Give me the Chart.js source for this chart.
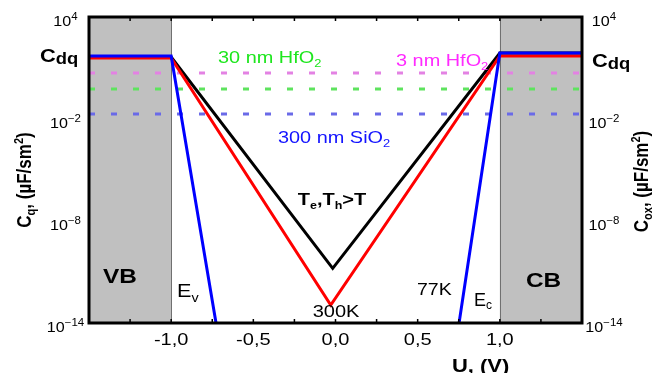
<!DOCTYPE html>
<html>
<head>
<meta charset="utf-8">
<script src="https://cdn.jsdelivr.net/npm/chart.js@4.4.0/dist/chart.umd.min.js"></script>
<style>
html,body{margin:0;padding:0;background:#fff;}
#wrap{width:658px;height:373px;}
</style>
</head>
<body>
<div id="wrap"><canvas id="c" width="658" height="373"></canvas></div>
<script>
// ---- data ----
const xTickValues = [-1.5,-1.25,-1.0,-0.75,-0.5,-0.25,0,0.25,0.5,0.75,1.0,1.25,1.5];
const xLabelValues = [-1.0,-0.5,0.0,0.5,1.0];
const xLabelTexts = ['-1,0','-0,5','0,0','0,5','1,0'];
const yLabelValues = [1e4,1e-2,1e-8,1e-14];
const yLabelExps = ['4','\u22122','\u22128','\u221214'];

const bandVB = [-1.5,-1.0];
const bandCB = [1.0,1.5];

// 300K curve (red)
const u300K = [-1.5,-1.0,-0.029,1.0,1.5];
const c300K = [39,39,1.15e-13,51,51];
// hot carriers Te,Th>T (black)
const uHot = [-1.5,-1.0,-0.017,1.0,1.5];
const cHot = [44,44,1.65e-11,76,76];
// 77K curve (blue), valence side and conduction side
const u77Kv = [-1.5,-1.0,-0.727];
const c77Kv = [51,51,1e-14];
const u77Kc = [0.752,1.0,1.5];
const c77Kc = [1e-14,76,76];
// oxide capacitances (dashed)
const uOx = [-1.5,1.5];
const cox3nmHfO2 = [5.1,5.1];
const cox30nmHfO2 = [0.58,0.58];
const cox300nmSiO2 = [0.0197,0.0197];

const pts = (xs,ys) => xs.map((x,i)=>({x:x,y:ys[i]}));

const FAM = '"Liberation Sans", Arial, Helvetica, sans-serif';
const F = (s,b) => (b?'bold ':'') + s + 'px ' + FAM;
const SX = 1.22;

function drawRich(ctx, segs, x, y, o){
  o = o || {};
  const align = o.align || 'left';
  ctx.save();
  ctx.translate(x,y);
  ctx.scale(o.sx || SX, 1);
  if (o.rot) ctx.rotate(-Math.PI/2);
  ctx.fillStyle = o.color || '#000';
  ctx.textBaseline = 'alphabetic';
  ctx.textAlign = 'left';
  let w = 0;
  const ws = segs.map(s => { ctx.font = s.f; const m = ctx.measureText(s.t).width; w += m; return m; });
  let cx = align === 'center' ? -w/2 : (align === 'right' ? -w : 0);
  segs.forEach((s,i) => { ctx.font = s.f; ctx.fillText(s.t, cx, s.dy || 0); cx += ws[i]; });
  ctx.restore();
}

const deco = {
  id: 'deco',
  beforeDatasetsDraw(chart){
    const {ctx, chartArea:a, scales:{x}} = chart;
    ctx.save();
    ctx.fillStyle = '#c0c0c0';
    [bandVB, bandCB].forEach(b => {
      const x0 = x.getPixelForValue(b[0]), x1 = x.getPixelForValue(b[1]);
      ctx.fillRect(x0, a.top, x1-x0, a.bottom-a.top);
    });
    ctx.strokeStyle = '#707070';
    ctx.lineWidth = 1;
    [bandVB[1], bandCB[0]].forEach(v => {
      const px = Math.round(x.getPixelForValue(v)) + 0.5;
      ctx.beginPath(); ctx.moveTo(px, a.top); ctx.lineTo(px, a.bottom); ctx.stroke();
    });
    ctx.restore();
  },
  afterDatasetsDraw(chart){
    const {ctx, chartArea:a, scales:{x, y, y2}} = chart;
    ctx.save();
    // ticks (inside, top & bottom)
    ctx.strokeStyle = '#000';
    ctx.lineWidth = 1.5;
    xTickValues.forEach(v => {
      const px = x.getPixelForValue(v);
      ctx.beginPath();
      ctx.moveTo(px, a.bottom); ctx.lineTo(px, a.bottom-4);
      ctx.moveTo(px, a.top); ctx.lineTo(px, a.top+4);
      ctx.stroke();
    });
    // frame
    ctx.lineWidth = 3;
    ctx.strokeRect(a.left, a.top, a.right-a.left, a.bottom-a.top);
    ctx.restore();

    // x tick labels
    xLabelValues.forEach((v,i) => {
      drawRich(ctx, [{t:xLabelTexts[i], f:F(16)}], x.getPixelForValue(v), 345, {align:'center', sx:1.25});
    });
    // y tick labels (left & right)
    yLabelValues.forEach((v,i) => {
      const py = y.getPixelForValue(v) + 9;
      const segs = [{t:'10', f:F(14)}, {t:yLabelExps[i], f:F(10), dy:-6}];
      drawRich(ctx, segs, 65.5, py, {align:'center', sx:1.15});
      const py2 = y2.getPixelForValue(v) + 9;
      drawRich(ctx, segs, 604, py2, {align:'center', sx:1.15});
    });
    // axis titles
    drawRich(ctx, [{t:'U, (V)', f:F(18,true)}], 452, 372, {sx:1.22});
    drawRich(ctx, [
      {t:'C', f:F(17,true)}, {t:'q', f:F(11,true), dy:3},
      {t:', (\u00b5F/sm', f:F(17,true)}, {t:'2', f:F(11,true), dy:-7}, {t:')', f:F(17,true)}
    ], 31, 180, {align:'center', rot:true, sx:1.2});
    drawRich(ctx, [
      {t:'C', f:F(17,true)}, {t:'ox', f:F(11,true), dy:3},
      {t:', (\u00b5F/sm', f:F(17,true)}, {t:'2', f:F(11,true), dy:-7}, {t:')', f:F(17,true)}
    ], 648, 181.5, {align:'center', rot:true, sx:1.2});
    // Cdq labels
    const cdq = [{t:'C', f:F(19,true)}, {t:'dq', f:F(16,true), dy:2}];
    drawRich(ctx, cdq, 40, 61.7, {sx:1.15});
    drawRich(ctx, cdq, 592, 66.7, {sx:1.15});
    // oxide labels
    drawRich(ctx, [{t:'30 nm HfO', f:F(17)}, {t:'2', f:F(11), dy:4}], 218, 63, {color:'#1ee61e', sx:1.17});
    drawRich(ctx, [{t:'3 nm HfO', f:F(17)}, {t:'2', f:F(11), dy:4}], 396, 66, {color:'#ff2bff', sx:1.17});
    drawRich(ctx, [{t:'300 nm SiO', f:F(17)}, {t:'2', f:F(11), dy:4}], 278, 143, {color:'#1414ff', sx:1.17});
    // curve labels
    drawRich(ctx, [{t:'300K', f:F(16)}], 336, 317, {align:'center', sx:1.25});
    drawRich(ctx, [{t:'77K', f:F(16)}], 417, 295, {sx:1.22});
    drawRich(ctx, [{t:'E', f:F(18)}, {t:'v', f:F(12), dy:5}], 177, 297, {sx:1.2});
    drawRich(ctx, [{t:'E', f:F(18)}, {t:'c', f:F(12), dy:3}], 474, 306, {sx:1.0});
    drawRich(ctx, [
      {t:'T', f:F(16,true)}, {t:'e', f:F(10,true), dy:4}, {t:',T', f:F(16,true)},
      {t:'h', f:F(10,true), dy:4}, {t:'>T', f:F(16,true)}
    ], 332, 205, {align:'center', sx:1.25});
    drawRich(ctx, [{t:'VB', f:F(21,true)}], 120, 283, {align:'center', sx:1.16});
    drawRich(ctx, [{t:'CB', f:F(21,true)}], 543.5, 287, {align:'center', sx:1.16});
  }
};

const lineDs = (data, color, order, extra) => Object.assign({
  data: data, borderColor: color, borderWidth: 3, pointRadius: 0, tension: 0,
  fill: false, order: order, borderJoinStyle: 'miter', yAxisID: 'y'
}, extra || {});

new Chart(document.getElementById('c'), {
  type: 'line',
  data: {
    datasets: [
      lineDs(pts(u77Kv, c77Kv), '#0000ff', 1),
      lineDs(pts(u77Kc, c77Kc), '#0000ff', 1),
      lineDs(pts(u300K, c300K), '#ff0000', 2),
      lineDs(pts(uHot, cHot), '#000000', 3),
      lineDs(pts(uOx, cox3nmHfO2), '#e382e3', 4, {borderDash:[6,16]}),
      lineDs(pts(uOx, cox30nmHfO2), '#5ee35e', 5, {borderDash:[6,16]}),
      lineDs(pts(uOx, cox300nmSiO2), '#6a6ae8', 6, {borderDash:[6,16]})
    ]
  },
  options: {
    responsive: false,
    animation: false,
    events: [],
    layout: {padding: {left: 0, right: 0, top: 17, bottom: 0}},
    plugins: {legend: {display: false}, tooltip: {enabled: false}, title: {display: false}},
    scales: {
      x: {
        type: 'linear', min: -1.5, max: 1.5,
        grid: {display: false}, border: {display: false},
        ticks: {display: false},
        afterFit: s => { s.height = 50; }
      },
      y: {
        type: 'logarithmic', position: 'left', min: 1e-14, max: 1e4,
        grid: {display: false}, border: {display: false},
        ticks: {display: false},
        afterFit: s => { s.width = 89; }
      },
      y2: {
        type: 'logarithmic', position: 'right', min: 1e-14, max: 1e4,
        grid: {display: false}, border: {display: false},
        ticks: {display: false},
        afterFit: s => { s.width = 76; }
      }
    }
  },
  plugins: [deco]
});
</script>
</body>
</html>
